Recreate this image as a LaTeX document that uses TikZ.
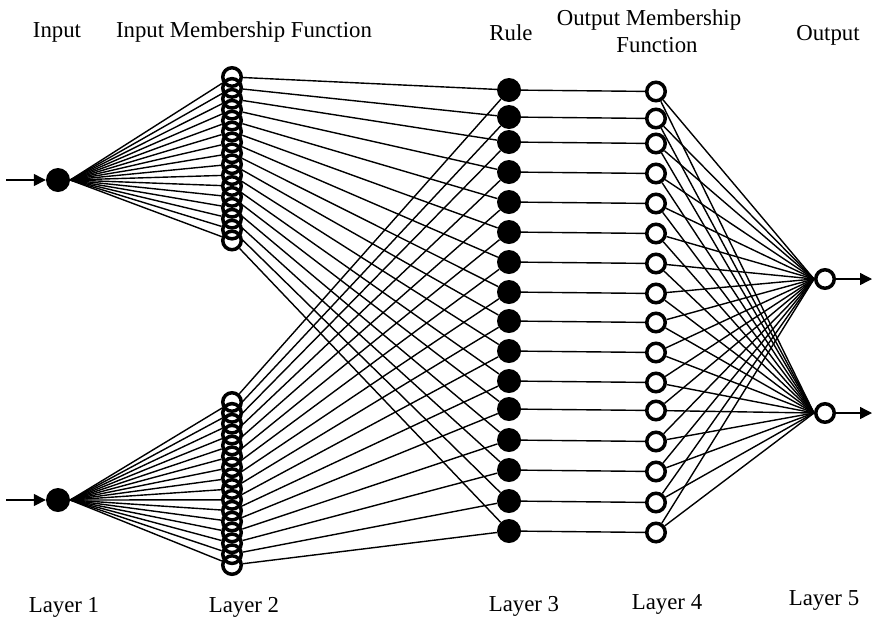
\documentclass[tikz,border=0pt]{standalone}
\usepackage{fontspec}
\setmainfont{Liberation Serif}
\usetikzlibrary{arrows.meta}
\begin{document}
\begin{tikzpicture}[x=1pt,y=-1pt,
  lbl/.style={font=\fontsize{22.8}{27}\selectfont, inner sep=0pt, anchor=base},
  conn/.style={line width=1.4pt, black},
  filled/.style={circle, fill=black, draw=none, minimum size=24pt, inner sep=0pt},
  ring/.style={circle, draw=black, line width=3.5pt, minimum size=18.5pt, inner sep=0pt},
  ringw/.style={ring, fill=white},
  tip/.style={-{Triangle[length=12pt,width=12pt]}, line width=1.4pt}
]
\useasboundingbox (0,0) rectangle (874,619);
% coordinates for free ends
\coordinate (s1) at (6,180);
\coordinate (s2) at (6,500);
\coordinate (e1) at (872,279);
\coordinate (e2) at (872,413);
% layer 1
\node[filled] (in1) at (58,180) {};
\node[filled] (in2) at (58,500) {};
% layer 2 (positions)
\foreach \i in {1,...,16}{
  \pgfmathsetmacro{\ty}{77+(\i-1)*10.9}
  \pgfmathsetmacro{\by}{402+(\i-1)*10.87}
  \coordinate (tc\i) at (232,\ty);
  \coordinate (bc\i) at (232,\by);
}
% layer 3 and 4
\foreach \y [count=\i] in {90,117,142,172,202,232,262,292,321,351,381,409,440,470,501,531}{
  \node[filled] (r\i) at (509,\y) {};
  \node[ringw] (o\i) at (656,\y+1.5) {};
}
% layer 5
\node[ringw] (y1) at (825,279) {};
\node[ringw] (y2) at (825,413) {};
% layer 2 nodes
\foreach \i in {1,...,16}{
  \node[ring] (t\i) at (tc\i) {};
  \node[ring] (b\i) at (bc\i) {};
}
% connectors
\foreach \i in {1,...,16}{
  \draw[conn] (in1.east) -- (t\i);
  \draw[conn] (in2.east) -- (b\i);
  \draw[conn] (t\i) -- (r\i);
  \draw[conn] (b\i) -- (r\i);
  \draw[conn] (r\i) -- (o\i);
  \draw[conn] (o\i) -- (y1.west);
  \draw[conn] (o\i) -- (y2.west);
}
\draw[tip] (s1) -- (in1);
\draw[tip] (s2) -- (in2);
\draw[tip] (y1) -- (e1);
\draw[tip] (y2) -- (e2);
% labels
\node[lbl] (tin) at (57,37) {Input};
\node[lbl] (timf) at (244,37) {Input Membership Function};
\node[lbl] (trule) at (511,40) {Rule};
\node[lbl] (tomf1) at (649,25) {Output Membership};
\node[lbl] (tomf2) at (657,52) {Function};
\node[lbl] (tout) at (828,40) {Output};
\node[lbl] (L1) at (64,612) {Layer 1};
\node[lbl] (L2) at (244,612) {Layer 2};
\node[lbl] (L3) at (524,611) {Layer 3};
\node[lbl] (L4) at (667,609) {Layer 4};
\node[lbl] (L5) at (824,605) {Layer 5};
\end{tikzpicture}
\end{document}
